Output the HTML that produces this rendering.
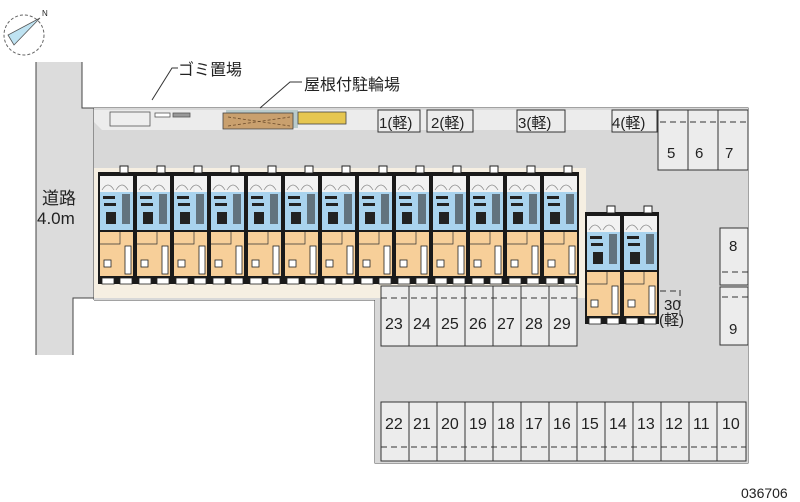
<!DOCTYPE html>
<html><head><meta charset="utf-8"><style>
html,body{margin:0;padding:0;background:#fff;width:800px;height:502px;overflow:hidden}
svg{display:block}
text{font-family:"Liberation Sans","Noto Sans CJK JP",sans-serif;fill:#222}
</style></head><body>
<svg width="800" height="502" viewBox="0 0 800 502" xmlns="http://www.w3.org/2000/svg">
<defs>
<g id="u">
 <rect x="0" y="0" width="37" height="112" fill="#1a1a1a"/>
 <rect x="2" y="4" width="33" height="16" fill="#f2f2f2"/>
 <path d="M4 18 Q10 8 16 18 M18 18 Q24 8 30 18" stroke="#888" fill="none" stroke-width=".7"/>
 <rect x="2" y="20" width="33" height="38" fill="#a9d3ee"/>
 <rect x="5" y="24" width="12" height="3" fill="#222"/>
 <rect x="6" y="31" width="12" height="3" fill="#222"/>
 <rect x="8" y="40" width="10" height="12" fill="#222"/>
 <rect x="24" y="22" width="8" height="30" fill="#333" opacity=".6"/>
 <rect x="2" y="60" width="33" height="44" fill="#f7cf99"/>
 <path d="M2 72H22V60" stroke="#333" fill="none" stroke-width=".7"/>
 <rect x="27" y="74" width="6" height="28" fill="#fff" stroke="#222" stroke-width=".8"/>
 <rect x="6" y="88" width="7" height="7" fill="#fff" stroke="#222" stroke-width=".8"/>
 <rect x="4" y="106" width="12" height="6" fill="#fff" stroke="#222" stroke-width=".8"/>
 <rect x="22" y="106" width="12" height="6" fill="#fff" stroke="#222" stroke-width=".8"/>
 <rect x="22" y="-6" width="8" height="7" fill="#fff" stroke="#222"/>
</g>
</defs>
<!-- compass -->
<circle cx="24" cy="35" r="20" fill="none" stroke="#666" stroke-dasharray="3,2"/>
<polygon points="40,18 8,35 14,45" fill="#bfe3f2" stroke="#555" stroke-width=".8"/>
<text x="42" y="16" font-size="8">N</text>
<!-- road -->
<rect x="36" y="62" width="46" height="236" fill="#dcdcdc"/>
<rect x="82" y="108" width="12" height="190" fill="#dcdcdc"/>
<rect x="36" y="298" width="37" height="57" fill="#dcdcdc"/>
<path d="M36 62V355 M73 355V298H94 M82 62V108H748V463H375V300H94 M94 108V300" fill="none" stroke="#444" stroke-width="1"/>
<text x="42" y="204" font-size="17">道路</text>
<text x="37" y="224" font-size="17">4.0m</text>
<!-- lot -->
<rect x="94" y="108" width="654" height="192" fill="#d8d8d8"/>
<rect x="375" y="295" width="373" height="168" fill="#d8d8d8"/>
<polygon points="94,110 748,110 748,130 102,130 94,122" fill="#ececec"/>
<rect x="94" y="168" width="492" height="130" fill="#f6efe2"/>
<rect x="110" y="112" width="40" height="14" fill="#eee" stroke="#555" stroke-width=".8"/>
<rect x="155" y="113" width="15" height="4" fill="#fff" stroke="#555" stroke-width=".8"/>
<rect x="173" y="113" width="17" height="4" fill="#999" stroke="#555" stroke-width=".8"/>
<rect x="226" y="110" width="72" height="18" fill="#8aa" opacity=".5"/>
<rect x="223" y="113" width="70" height="16" fill="#c9a06e" stroke="#444" stroke-width=".8"/>
<path d="M228 117L290 126M228 126L290 117" stroke="#6a4a2a" stroke-dasharray="3,2" stroke-width=".8"/>
<rect x="298" y="112" width="48" height="12" fill="#e6c650" stroke="#444" stroke-width=".8"/>
<path d="M152 100 L172 68 H178 M260 108 L290 82 H302" stroke="#333" fill="none"/>
<text x="178" y="75" font-size="16">ゴミ置場</text>
<text x="304" y="90" font-size="16">屋根付駐輪場</text>
<!-- units -->
<use href="#u" x="98" y="172"/><use href="#u" x="135" y="172"/><use href="#u" x="172" y="172"/>
<use href="#u" x="209" y="172"/><use href="#u" x="246" y="172"/><use href="#u" x="283" y="172"/>
<use href="#u" x="320" y="172"/><use href="#u" x="357" y="172"/><use href="#u" x="394" y="172"/>
<use href="#u" x="431" y="172"/><use href="#u" x="468" y="172"/><use href="#u" x="505" y="172"/>
<use href="#u" x="542" y="172"/>
<use href="#u" x="585" y="212"/><use href="#u" x="622" y="212"/>
<!-- top parking -->
<g fill="#ececec" stroke="#333" stroke-width="1">
<rect x="378" y="110" width="42" height="22"/><rect x="427" y="110" width="46" height="22"/>
<rect x="517" y="110" width="48" height="22"/><rect x="612" y="110" width="45" height="22"/>
<rect x="658" y="110" width="30" height="60"/><rect x="688" y="110" width="30" height="60"/><rect x="718" y="110" width="30" height="60"/>
<rect x="720" y="228" width="28" height="57"/><rect x="720" y="287" width="28" height="58"/>
</g>
<g font-size="15">
<text x="379" y="128">1(軽)</text><text x="431" y="128">2(軽)</text><text x="518" y="128">3(軽)</text><text x="612" y="128">4(軽)</text>
<text x="667" y="158">5</text><text x="695" y="158">6</text><text x="725" y="158">7</text>
<text x="729" y="251">8</text><text x="729" y="334">9</text>
<text x="664" y="310">30</text><text x="659" y="325">(軽)</text>
</g>
<path d="M660 122H748 M722 272H748 M722 297H748 M660 291H680 M680 290V320" stroke="#333" stroke-dasharray="6,4" fill="none"/>
<!-- 23-29 -->
<g fill="#ececec" stroke="#333">
<rect x="381" y="286" width="28" height="60"/><rect x="409" y="286" width="28" height="60"/><rect x="437" y="286" width="28" height="60"/>
<rect x="465" y="286" width="28" height="60"/><rect x="493" y="286" width="28" height="60"/><rect x="521" y="286" width="28" height="60"/>
<rect x="549" y="286" width="28" height="60"/>
</g>
<path d="M381 298H577" stroke="#333" stroke-dasharray="6,4"/>
<g font-size="16"><text x="385" y="329">23</text><text x="413" y="329">24</text><text x="441" y="329">25</text><text x="469" y="329">26</text><text x="497" y="329">27</text><text x="525" y="329">28</text><text x="553" y="329">29</text></g>
<!-- bottom -->
<g fill="#ececec" stroke="#333">
<rect x="381" y="402" width="28" height="59"/><rect x="409" y="402" width="28" height="59"/><rect x="437" y="402" width="28" height="59"/>
<rect x="465" y="402" width="28" height="59"/><rect x="493" y="402" width="28" height="59"/><rect x="521" y="402" width="28" height="59"/>
<rect x="549" y="402" width="28" height="59"/><rect x="577" y="402" width="28" height="59"/><rect x="605" y="402" width="28" height="59"/>
<rect x="633" y="402" width="28" height="59"/><rect x="661" y="402" width="28" height="59"/><rect x="689" y="402" width="28" height="59"/>
<rect x="717" y="402" width="29" height="59"/>
</g>
<path d="M381 447H746" stroke="#333" stroke-dasharray="6,4"/>
<g font-size="16"><text x="385" y="429">22</text><text x="413" y="429">21</text><text x="441" y="429">20</text><text x="469" y="429">19</text><text x="497" y="429">18</text><text x="525" y="429">17</text><text x="553" y="429">16</text><text x="581" y="429">15</text><text x="609" y="429">14</text><text x="637" y="429">13</text><text x="665" y="429">12</text><text x="693" y="429">11</text><text x="722" y="429">10</text></g>
<text x="741" y="498" font-size="14">036706</text>
</svg>
</body></html>
